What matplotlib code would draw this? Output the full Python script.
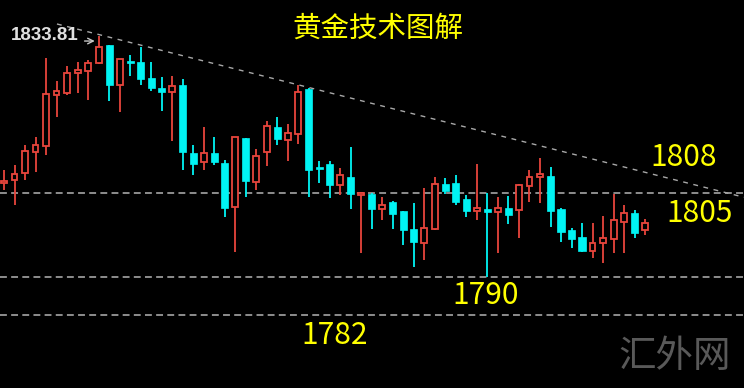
import numpy as np
import matplotlib
matplotlib.use("Agg")
import matplotlib.pyplot as plt

# Daily gold candles
opens = [1807.1, 1807.6, 1808.9, 1812.7, 1813.8, 1823.1, 1823.5, 1827.1, 1827.5, 1828.9,
         1832.2, 1824.9, 1829.3, 1829.1, 1826.2, 1824.4, 1823.6, 1824.9, 1812.5, 1810.9,
         1812.5, 1810.7, 1802.7, 1815.3, 1807.3, 1812.7, 1817.3, 1814.9, 1816.0, 1824.2,
         1810.0, 1810.5, 1806.7, 1808.2, 1804.9, 1805.1, 1802.4, 1803.6, 1802.0, 1798.7,
         1796.2, 1798.7, 1806.9, 1807.1, 1804.2, 1802.0, 1802.4, 1801.8, 1802.5, 1802.2,
         1806.5, 1808.2, 1808.4, 1802.4, 1798.5, 1797.3, 1794.7, 1796.2, 1796.9, 1800.0,
         1801.6, 1798.5]
highs = [1809.5, 1810.4, 1814.0, 1815.5, 1829.8, 1825.6, 1828.4, 1829.1, 1829.5, 1833.81,
         1832.2, 1829.6, 1830.4, 1831.8, 1829.1, 1826.4, 1826.5, 1826.0, 1814.0, 1817.3,
         1815.5, 1811.3, 1815.5, 1815.3, 1813.3, 1818.4, 1819.1, 1817.8, 1824.9, 1824.4,
         1811.1, 1811.1, 1809.8, 1813.6, 1805.5, 1805.3, 1804.5, 1803.8, 1802.0, 1803.5,
         1806.2, 1808.2, 1808.0, 1808.5, 1804.9, 1810.5, 1805.3, 1804.5, 1804.7, 1806.9,
         1809.5, 1811.6, 1810.0, 1802.5, 1798.9, 1799.8, 1799.8, 1801.1, 1805.1, 1803.1,
         1802.2, 1800.5]
lows = [1805.8, 1803.1, 1807.6, 1809.1, 1812.2, 1819.1, 1823.1, 1823.5, 1822.2, 1828.7,
        1822.0, 1820.0, 1826.5, 1824.9, 1823.8, 1820.2, 1814.7, 1809.5, 1808.5, 1809.5,
        1810.4, 1800.9, 1794.5, 1804.5, 1805.8, 1810.2, 1814.0, 1811.1, 1814.2, 1804.5,
        1807.1, 1804.4, 1804.9, 1802.4, 1794.4, 1798.7, 1800.4, 1798.7, 1795.8, 1791.8,
        1793.1, 1798.5, 1805.1, 1803.1, 1800.9, 1800.4, 1790.0, 1794.4, 1799.6, 1797.1,
        1803.6, 1803.5, 1799.1, 1796.4, 1795.3, 1794.5, 1793.5, 1792.5, 1794.4, 1794.4,
        1797.1, 1797.6]
closes = [1807.5, 1808.7, 1812.9, 1814.0, 1823.3, 1823.8, 1827.1, 1827.6, 1828.9, 1831.8,
          1824.9, 1829.6, 1828.9, 1826.0, 1824.4, 1823.6, 1824.7, 1812.7, 1810.5, 1812.5,
          1810.9, 1802.5, 1815.5, 1807.5, 1812.0, 1817.5, 1815.1, 1816.2, 1823.6, 1809.5,
          1809.6, 1806.7, 1808.5, 1805.1, 1805.3, 1802.4, 1803.1, 1801.5, 1798.5, 1796.4,
          1798.9, 1806.9, 1805.6, 1803.6, 1802.0, 1802.5, 1801.8, 1802.5, 1801.3, 1806.7,
          1808.2, 1808.7, 1802.0, 1798.2, 1796.9, 1794.7, 1796.2, 1797.1, 1800.4, 1801.6,
          1798.0, 1799.8]

# Support / resistance levels and the falling trend line
levels = [1805.3, 1790.0, 1783.1]
trend_x = [5.04, 70.41]
trend_y = [1836.0, 1804.5]

level_labels = ["1808", "1805", "1790", "1782"]
high_label = "1833.81"
title = "黄金技术图解"
watermark = "汇外网"

RED = "#e8453c"
CYAN = "#00f4f4"
YELLOW = "#ffff00"

fig = plt.figure(figsize=(7.44, 3.88), dpi=100, facecolor="black")
ax = fig.add_axes([0, 0, 1, 1])
ax.set_facecolor("black")

o = np.array(opens)
h = np.array(highs)
l = np.array(lows)
c = np.array(closes)
x = np.arange(len(o))
up = c >= o

# levels + trend line
for lv in levels:
    ax.axhline(lv, color="#b4b4b4", lw=1.1, linestyle=(0, (4.5, 2.8)), zorder=1)
ax.plot(trend_x, trend_y, color="#a8a8a8", lw=1.0, linestyle=(0, (3.5, 4)), zorder=1)

# wicks
ax.vlines(x[up], l[up], h[up], color=RED, lw=1.3, zorder=2)
ax.vlines(x[~up], l[~up], h[~up], color=CYAN, lw=1.3, zorder=2)

# bodies (red = hollow up candles, cyan = filled down candles)
body_lo = np.minimum(o, c)
body_h = np.maximum(np.abs(c - o), 0.3)
ax.bar(x[up], body_h[up], bottom=body_lo[up], width=0.56,
       facecolor="black", edgecolor=RED, linewidth=1.3, zorder=3)
ax.bar(x[~up], body_h[~up], bottom=body_lo[~up], width=0.68,
       facecolor=CYAN, edgecolor=CYAN, linewidth=0.5, zorder=3)

ax.set_xlim(-0.38, 70.41)
ax.set_ylim(1769.82, 1840.36)
ax.axis("off")

# texts (positions in figure pixels)
def fx(px):
    return px / 744

def fy(py):
    return 1 - py / 388

cjk = ["Noto Sans CJK SC", "DejaVu Sans"]
fig.text(fx(378), fy(29), title, color=YELLOW, fontsize=20.5,
         family=cjk, ha="center", va="center")
fig.text(fx(684), fy(158), level_labels[0], color=YELLOW, fontsize=21.5,
         family=cjk, ha="center", va="center")
fig.text(fx(700), fy(213), level_labels[1], color=YELLOW, fontsize=21.5,
         family=cjk, ha="center", va="center")
fig.text(fx(486), fy(295), level_labels[2], color=YELLOW, fontsize=21.5,
         family=cjk, ha="center", va="center")
fig.text(fx(335), fy(336), level_labels[3], color=YELLOW, fontsize=21.5,
         family=cjk, ha="center", va="center")
fig.text(fx(675), fy(357), watermark, color="#595959", fontsize=27,
         family=cjk, ha="center", va="center")

fig.text(fx(11), fy(36), high_label, color="#e0e0e0", fontsize=13.5,
         family="Liberation Sans", fontweight="bold", ha="left", va="center")
ax.annotate("", xy=(8.9, 1832.9), xytext=(7.4, 1832.9),
            arrowprops=dict(arrowstyle="->", color="#c8c8c8", lw=1.0))

fig.savefig("out.png", dpi=100, facecolor="black")
